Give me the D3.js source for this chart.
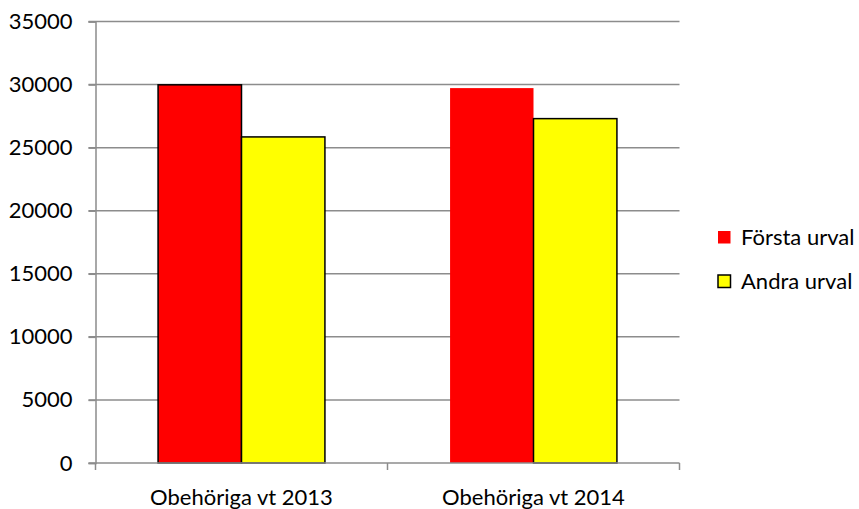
<!DOCTYPE html>
<html>
<head>
<meta charset="utf-8">
<script src="https://cdn.jsdelivr.net/npm/d3@7"></script>
<style>
  body { margin: 0; background: #fff; }
  text { font-family: Lato, "Open Sans", sans-serif; fill: #000; }
</style>
</head>
<body>
<div id="chart"></div>
<script>
// values
var categories = ['Obehöriga vt 2013', 'Obehöriga vt 2014'],
  seriesNames = ['Första urval', 'Andra urval'],
  forsta = [29980, 29720],
  andra = [25850, 27300],
  yTicks = [0, 5000, 10000, 15000, 20000, 25000, 30000, 35000],
  colors = ['#ff0000', '#ffff00'];

var width = 859,
  height = 509,
  plotLeft = 95.5,
  plotRight = 679.5,
  plotTop = 21.5,
  plotBottom = 463,
  fontSize = 22;

var svg = d3.select('#chart')
  .append('svg')
  .attr('width', width)
  .attr('height', height);

var x = d3.scaleBand()
  .domain(categories)
  .range([plotLeft, plotRight])
  .paddingInner(0)
  .paddingOuter(0);

var y = d3.scaleLinear()
  .domain([0, 35000])
  .range([plotBottom, plotTop]);

// bars sit in the middle of each band, Excel style (gap 75%)
var barW = x.bandwidth() / 3.5;

// gridlines
svg.append('g')
  .selectAll('line')
  .data(yTicks.filter(function(d) { return d > 0; }))
  .enter()
  .append('line')
  .attr('x1', plotLeft - 7)
  .attr('x2', plotRight)
  .attr('y1', function(d) { return y(d); })
  .attr('y2', function(d) { return y(d); })
  .style('stroke', '#8c8c8c')
  .style('stroke-width', 1.5);

var rows = categories.map(function(c, i) {
  return {cat: c, vals: [forsta[i], andra[i]]};
});

var bars = [];
rows.forEach(function(r, i) {
  r.vals.forEach(function(v, j) {
    // second red bar has no outline in the original
    bars.push({cat: r.cat, v: v, j: j, outline: !(i === 1 && j === 0)});
  });
});

svg.append('g')
  .selectAll('rect')
  .data(bars)
  .enter()
  .append('rect')
  .attr('x', function(d) { return x(d.cat) + (x.bandwidth() - 2 * barW) / 2 + d.j * barW; })
  .attr('width', barW)
  .attr('y', function(d) { return y(d.v); })
  .attr('height', function(d) { return y(0) - y(d.v); })
  .style('fill', function(d) { return colors[d.j]; })
  .style('stroke', function(d) { return d.outline ? '#000' : 'none'; })
  .style('stroke-width', 1.5);

// y axis
var yAxis = svg.append('g')
  .attr('transform', 'translate(' + plotLeft + ',0)')
  .call(d3.axisLeft(y).tickValues(yTicks).tickSize(7).tickPadding(16).tickFormat(d3.format('d')));
yAxis.select('.domain').style('stroke', '#8c8c8c').style('stroke-width', 1.5);
yAxis.selectAll('.tick line').style('stroke', '#8c8c8c').style('stroke-width', 1.5);
yAxis.selectAll('.tick text')
  .style('font-size', fontSize + 'px')
  .style('font-family', 'Lato, "Open Sans", sans-serif');

// x axis with ticks at band boundaries
var xg = svg.append('g');
xg.append('line')
  .attr('x1', plotLeft - 7).attr('x2', plotRight)
  .attr('y1', plotBottom).attr('y2', plotBottom)
  .style('stroke', '#8c8c8c')
  .style('stroke-width', 1.5);
xg.selectAll('line.tk')
  .data(categories.concat(['end']))
  .enter()
  .append('line')
  .classed('tk', true)
  .attr('x1', function(d) { return d === 'end' ? plotRight : x(d); })
  .attr('x2', function(d) { return d === 'end' ? plotRight : x(d); })
  .attr('y1', plotBottom)
  .attr('y2', plotBottom + 7)
  .style('stroke', '#8c8c8c')
  .style('stroke-width', 1.5);
xg.selectAll('text')
  .data(categories)
  .enter()
  .append('text')
  .attr('x', function(d) { return x(d) + x.bandwidth() / 2; })
  .attr('y', 505)
  .attr('text-anchor', 'middle')
  .style('font-size', fontSize + 'px')
  .text(function(d) { return d; });

// legend
var legend = svg.append('g')
  .selectAll('g')
  .data(seriesNames)
  .enter()
  .append('g')
  .attr('transform', function(d, i) { return 'translate(718,' + (231 + i * 44) + ')'; });
legend.append('rect')
  .attr('width', 12.5)
  .attr('height', 12.5)
  .style('fill', function(d, i) { return colors[i]; })
  .style('stroke', function(d, i) { return i === 1 ? '#000' : 'none'; })
  .style('stroke-width', 1.5);
legend.append('text')
  .attr('x', 23)
  .attr('y', 6.5)
  .attr('dy', '0.35em')
  .style('font-size', fontSize + 'px')
  .text(function(d) { return d; });
</script>
</body>
</html>
